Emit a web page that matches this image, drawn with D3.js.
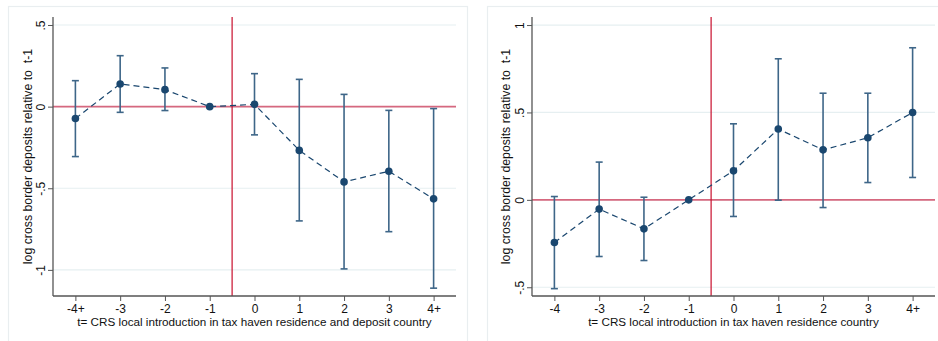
<!DOCTYPE html>
<html>
<head>
<meta charset="utf-8">
<script src="https://cdn.jsdelivr.net/npm/d3@7"></script>
<style>
  html, body { margin: 0; padding: 0; background: #fff; }
  svg { display: block; font-family: "Liberation Sans", Arial, sans-serif; }
  text { white-space: pre; }
</style>
</head>
<body>
<svg id="chart" width="938" height="341"></svg>
<script>
// Event-study estimates: point estimate with confidence interval bounds
const leftLabels = ["-4+", "-3", "-2", "-1", "0", "1", "2", "3", "4+"];
const leftEst    = [-0.073, 0.139, 0.104, 0, 0.014, -0.268, -0.461, -0.396, -0.565];
const leftLow    = [-0.306, -0.035, -0.024, 0, -0.173, -0.700, -0.994, -0.766, -1.112];
const leftHigh   = [0.159, 0.312, 0.237, 0, 0.202, 0.167, 0.075, -0.023, -0.012];
const leftYTicks = [0.5, 0, -0.5, -1];

const rightLabels = ["-4", "-3", "-2", "-1", "0", "1", "2", "3", "4+"];
const rightEst    = [-0.244, -0.053, -0.166, 0, 0.166, 0.405, 0.286, 0.355, 0.500];
const rightLow    = [-0.508, -0.324, -0.347, 0, -0.095, -0.002, -0.044, 0.099, 0.128];
const rightHigh   = [0.019, 0.216, 0.015, 0, 0.435, 0.807, 0.610, 0.610, 0.870];
const rightYTicks = [1, 0.5, 0, -0.5];

const eventTimes = [-4, -3, -2, -1, 0, 1, 2, 3, 4];
const yTitle = "log cross border deposits relative to  t-1";
const leftXTitle = "t= CRS local introduction in tax haven residence and deposit country";
const rightXTitle = "t= CRS local introduction in tax haven residence country";

const navy = "#1a476f";
const fs = 11.7;
const fmt = v => v === 0 ? "0" : (Math.abs(v) < 1 ? (v < 0 ? "-" : "") + String(Math.abs(v)).replace(/^0/, "") : String(v));

const svg = d3.select("#chart");

function panel(cfg) {
  const g = svg.append("g");
  // panel frame
  g.append("rect")
    .attr("x", cfg.box[0] + 0.5).attr("y", cfg.box[1] + 0.5)
    .attr("width", cfg.box[2]).attr("height", cfg.box[3])
    .attr("fill", "#fff").attr("stroke", "#e9eef0").attr("stroke-width", 1.2);

  const x = d3.scaleLinear().domain([-4.5, 4.5]).range([cfg.plot.left, cfg.plot.right]);
  const y = d3.scaleLinear().domain(cfg.yDomain).range([cfg.plot.bottom, cfg.plot.top]);

  // gridlines
  g.selectAll(".grid").data(cfg.yTicks).enter().append("line")
    .attr("x1", cfg.plot.left).attr("x2", cfg.plot.right)
    .attr("y1", d => y(d)).attr("y2", d => y(d))
    .attr("stroke", "#e6eff1").attr("stroke-width", 1.2);

  // reference lines
  g.append("line")
    .attr("x1", cfg.plot.left).attr("x2", cfg.plot.right)
    .attr("y1", y(0)).attr("y2", y(0))
    .attr("stroke", "#d6687f").attr("stroke-width", 1.8);
  g.append("line")
    .attr("x1", x(-0.5)).attr("x2", x(-0.5))
    .attr("y1", cfg.plot.top).attr("y2", cfg.plot.bottom)
    .attr("stroke", "#c8102e").attr("stroke-width", 1.2);

  // axes
  const yAxis = d3.axisLeft(y).tickValues(cfg.yTicks).tickSize(5).tickFormat(fmt);
  const ya = g.append("g").attr("transform", `translate(${cfg.plot.left},0)`).call(yAxis);
  ya.select(".domain").attr("stroke", "#555").attr("stroke-width", 1.3)
    .attr("d", `M-0,${cfg.plot.top}V${cfg.plot.bottom}`);
  ya.selectAll(".tick line").attr("stroke", "#555");
  ya.selectAll(".tick text")
    .attr("font-size", fs + 0.3).attr("fill", "#111")
    .attr("transform", "rotate(-90)")
    .attr("x", 0).attr("y", -8).attr("dy", 0)
    .attr("text-anchor", "middle");

  const xAxis = d3.axisBottom(x).tickValues(eventTimes).tickSize(5)
    .tickFormat((d, i) => cfg.labels[i]);
  const xa = g.append("g").attr("transform", `translate(0,${cfg.plot.bottom})`).call(xAxis);
  xa.select(".domain").attr("stroke", "#555").attr("stroke-width", 1.3)
    .attr("d", `M${cfg.plot.left},0H${cfg.plot.right}`);
  xa.selectAll(".tick line").attr("stroke", "#555");
  xa.selectAll(".tick text").attr("font-size", fs + 0.3).attr("fill", "#111").attr("y", 8).attr("dy", "0.71em");

  // axis titles
  g.append("text")
    .attr("transform", `translate(${cfg.yTitleX},${(cfg.plot.top + cfg.plot.bottom) / 2}) rotate(-90)`)
    .attr("text-anchor", "middle").attr("dy", "0.35em")
    .attr("font-size", 12.3).attr("fill", "#111")
    .text(yTitle);
  g.append("text")
    .attr("x", (cfg.plot.left + cfg.plot.right) / 2).attr("y", 326)
    .attr("text-anchor", "middle")
    .attr("font-size", fs).attr("fill", "#111")
    .text(cfg.xTitle);

  const rows = eventTimes.map((t, i) => ({ t, est: cfg.est[i], lo: cfg.low[i], hi: cfg.high[i] }));

  // confidence intervals with caps
  const ci = g.selectAll(".ci").data(rows.filter(d => d.lo !== d.hi)).enter().append("g");
  ci.append("line")
    .attr("x1", d => x(d.t)).attr("x2", d => x(d.t))
    .attr("y1", d => y(d.lo)).attr("y2", d => y(d.hi))
    .attr("stroke", "#3e6688").attr("stroke-width", 1.6);
  ci.selectAll(".cap").data(d => [[d.t, d.lo], [d.t, d.hi]]).enter().append("line")
    .attr("x1", d => x(d[0]) - 3.5).attr("x2", d => x(d[0]) + 3.5)
    .attr("y1", d => y(d[1])).attr("y2", d => y(d[1]))
    .attr("stroke", "#3e6688").attr("stroke-width", 1.6);

  // connecting dashed line
  g.append("path")
    .datum(rows)
    .attr("fill", "none").attr("stroke", navy).attr("stroke-width", 1.2)
    .attr("stroke-dasharray", "6,4")
    .attr("d", d3.line().x(d => x(d.t)).y(d => y(d.est)));

  // point estimates
  g.selectAll(".pt").data(rows).enter().append("circle")
    .attr("cx", d => x(d.t)).attr("cy", d => y(d.est)).attr("r", 3.8)
    .attr("fill", navy);
}

panel({
  box: [8, 6, 459, 345],
  plot: { left: 53, right: 456, top: 17, bottom: 296 },
  yDomain: [-1.16, 0.549],
  yTicks: leftYTicks,
  labels: leftLabels,
  est: leftEst, low: leftLow, high: leftHigh,
  yTitleX: 28,
  xTitle: leftXTitle
});

panel({
  box: [487, 6, 460, 345],
  plot: { left: 532, right: 935, top: 17, bottom: 296 },
  yDomain: [-0.55, 1.046],
  yTicks: rightYTicks,
  labels: rightLabels,
  est: rightEst, low: rightLow, high: rightHigh,
  yTitleX: 506,
  xTitle: rightXTitle
});
</script>
</body>
</html>
